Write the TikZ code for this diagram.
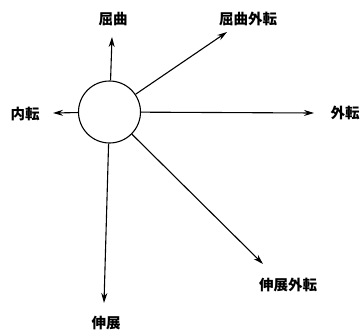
\documentclass[tikz,border=0pt]{standalone}
\usepackage{fontspec}
\newfontfamily\jp{Noto Sans CJK JP}[BoldFont={Noto Sans CJK JP Black}]
\usetikzlibrary{arrows.meta}
\begin{document}
\begin{tikzpicture}[x=1pt,y=-1pt,
  lbl/.style={font=\jp\bfseries\fontsize{14.5}{16}\selectfont, inner sep=0pt},
  arr/.style={line width=1.1pt, -{Stealth[length=10pt,width=6pt]}},
  hub/.style={circle, draw, line width=1.1pt, minimum size=62pt, inner sep=0pt}]
\useasboundingbox (0,0) rectangle (364,332);
\node[hub] (c) at (109.5,112) {};
\coordinate (tUp) at (112,37);
\coordinate (tUR) at (227,32);
\coordinate (tR) at (314,113);
\coordinate (tL) at (53,113);
\coordinate (tD) at (104,303);
\coordinate (tDR) at (263,264);
\draw[arr] (c) -- (tUp);
\draw[arr] (c) -- (tUR);
\draw[arr] (c) -- (tR);
\draw[arr] (c) -- (tL);
\draw[arr] (c) -- (tD);
\draw[arr] (c) -- (tDR);
\node[lbl] (n1) at (113,19) {屈曲};
\node[lbl] (n2) at (248,19) {屈曲外転};
\node[lbl] (n3) at (345,113) {外転};
\node[lbl] (n4) at (25,114) {内転};
\node[lbl] (n5) at (288,285) {伸展外転};
\node[lbl] (n6) at (106,323) {伸展};
\end{tikzpicture}
\end{document}
